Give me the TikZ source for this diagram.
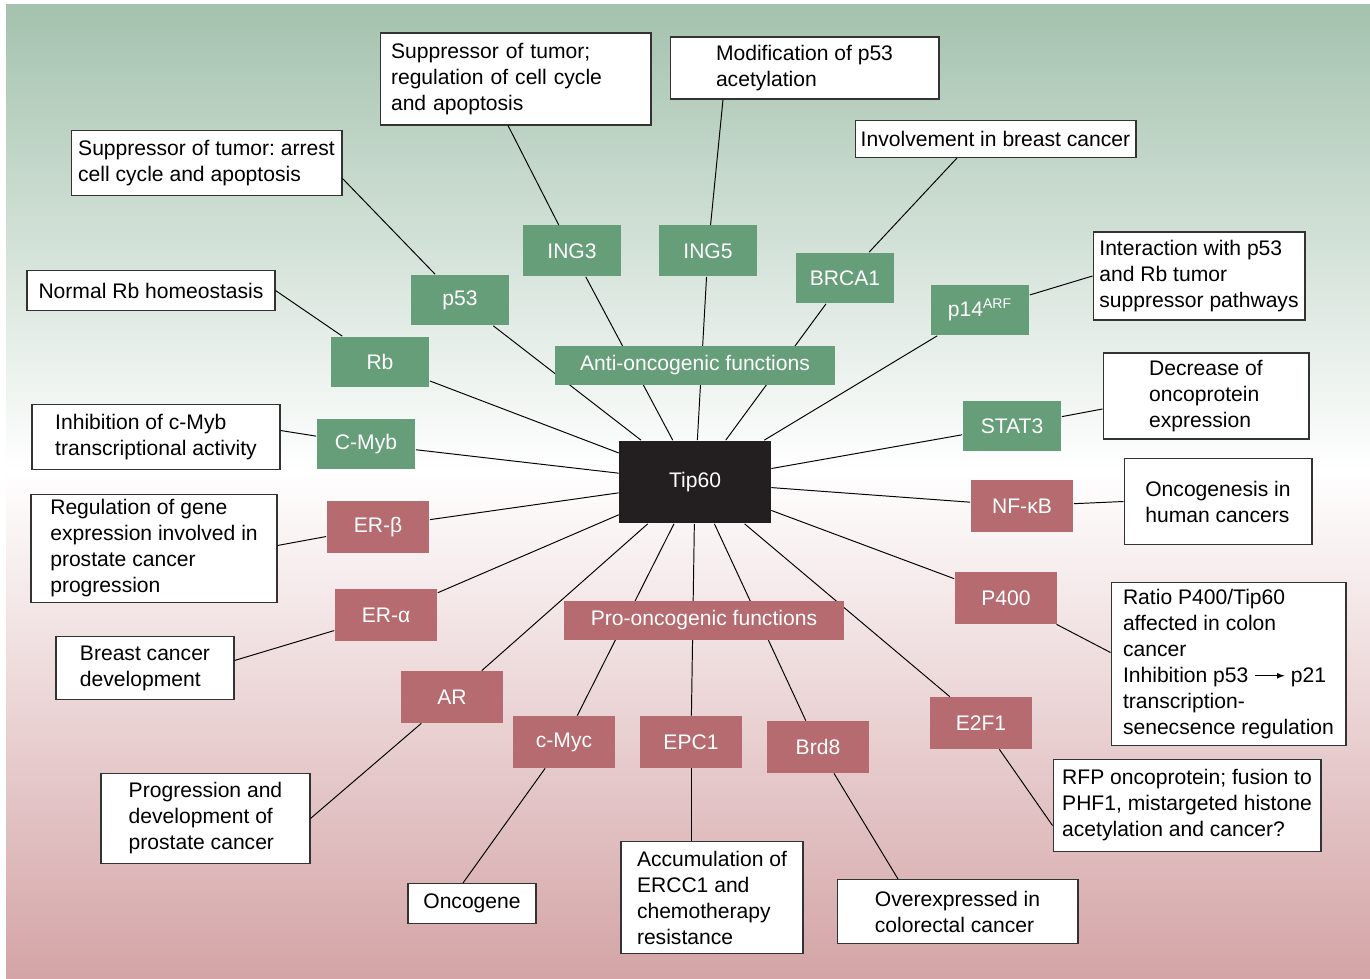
\documentclass[tikz,border=0pt]{standalone}
\usepackage{fontspec}
\setmainfont{Liberation Sans}
\usetikzlibrary{arrows}
\definecolor{antigreen}{RGB}{102,158,122}
\definecolor{prored}{RGB}{181,107,112}
\definecolor{tipblack}{RGB}{35,31,32}
\definecolor{bggreen}{RGB}{164,194,174}
\definecolor{bgpink}{RGB}{212,164,166}
\frenchspacing

\begin{document}
\begin{tikzpicture}[x=0.02cm, y=-0.02cm,
    every node/.style={font=\fontsize{12}{14.8}\selectfont},
    anti/.style={fill=antigreen, text=white, minimum width=1.98cm, minimum height=1.02cm, inner sep=0pt},
    pro/.style={fill=prored, text=white, minimum width=2.06cm, minimum height=1.04cm, inner sep=0pt},
    desc/.style={draw=black!80, line width=0.6pt, fill=white, align=left, inner sep=0pt},
    link/.style={line width=0.55pt}]
    \useasboundingbox (0,0) rectangle (1370,979);
    \shade[top color=bggreen, bottom color=white] (6,5) rectangle (1370,471);
    \shade[top color=white, bottom color=bgpink] (6,470) rectangle (1370,979);

    \node[fill=tipblack, text=white, minimum width=3.04cm, minimum height=1.66cm, inner sep=0pt] (tip) at (695,482) {Tip60};

    % anti-oncogenic partners
    \node[anti] (ing3) at (572,251) {ING3};
    \node[anti] (ing5) at (708,251) {ING5};
    \node[anti] (brca1) at (845,278) {BRCA1};
    \node[anti] (p53) at (460,300) {p53};
    \node[anti] (rb) at (380,362) {Rb};
    \node[anti] (p14) at (980,310) {p14\textsuperscript{ARF}};
    \node[anti] (cmyb) at (366,444) {C-Myb};
    \node[anti] (stat3) at (1012,426) {STAT3};

    % pro-oncogenic partners
    \node[pro] (nfkb) at (1022,506) {NF-κB};
    \node[pro] (erb) at (378,527) {ER-β};
    \node[pro] (era) at (386,615) {ER-α};
    \node[pro] (p400) at (1006,598) {P400};
    \node[pro] (ar) at (452,697) {AR};
    \node[pro] (cmyc) at (564,742) {c-Myc};
    \node[pro] (epc1) at (691,742) {EPC1};
    \node[pro] (brd8) at (818,747) {Brd8};
    \node[pro] (e2f1) at (981,723) {E2F1};

    % descriptions
    \node[desc, minimum width=5.42cm, minimum height=1.30cm] (p53txt) at (206.5,163) {Suppressor of tumor: arrest\\cell cycle and apoptosis};
    \node[desc, text width=4.98cm, inner xsep=0.22cm, minimum height=1.84cm] (ing3txt) at (515.5,79) {Suppressor of tumor;\\regulation of cell cycle\\and apoptosis};
    \node[desc, minimum width=5.38cm, minimum height=1.24cm] (ing5txt) at (804.5,68) {Modification of p53\\acetylation};
    \node[desc, minimum width=5.62cm, minimum height=0.74cm] (brca1txt) at (995.5,139) {Involvement in breast cancer};
    \node[desc, minimum width=4.96cm, minimum height=0.80cm] (rbtxt) at (151,290.5) {Normal Rb homeostasis};
    \node[desc, minimum width=4.24cm, minimum height=1.76cm] (p14txt) at (1199,276) {Interaction with p53\\and Rb tumor\\suppressor pathways};
    \node[desc, minimum width=4.12cm, minimum height=1.72cm] (stat3txt) at (1206,396) {Decrease of\\oncoprotein\\expression};
    \node[desc, minimum width=4.96cm, minimum height=1.30cm] (cmybtxt) at (156,437) {Inhibition of c-Myb\\transcriptional activity};
    \node[desc, minimum width=3.76cm, minimum height=1.72cm] (nfkbtxt) at (1218,501.5) {Oncogenesis in\\human cancers};
    \node[desc, minimum width=4.92cm, minimum height=2.16cm] (erbtxt) at (154,548.5) {Regulation of gene\\expression involved in\\prostate cancer\\progression};
    \node[desc, minimum width=3.56cm, minimum height=1.26cm] (eratxt) at (145,668) {Breast cancer\\development};
    \node[desc, minimum width=4.70cm, minimum height=3.26cm] (p400txt) at (1228.5,664) {Ratio P400/Tip60\\affected in colon\\cancer\\Inhibition p53 \tikz[baseline=-0.6ex]\draw[-latex, line width=0.5pt] (0pt,0pt) -- (17pt,0pt); p21\\transcription-\\senecsence regulation};
    \node[desc, minimum width=4.18cm, minimum height=1.80cm] (artxt) at (205.5,818.5) {Progression and\\development of\\prostate cancer};
    \node[desc, minimum width=5.36cm, minimum height=1.84cm] (e2f1txt) at (1187,805.5) {RFP oncoprotein; fusion to\\PHF1, mistargeted histone\\acetylation and cancer?};
    \node[desc, minimum width=2.56cm, minimum height=0.80cm] (cmyctxt) at (472,903.5) {Oncogene};
    \node[desc, minimum width=3.64cm, minimum height=2.24cm] (epc1txt) at (712,897.5) {Accumulation of\\ERCC1 and\\chemotherapy\\resistance};
    \node[desc, minimum width=4.82cm, minimum height=1.28cm] (brd8txt) at (957.5,911.5) {Overexpressed in\\colorectal cancer};

    % spokes from Tip60
    \foreach \g in {ing3,ing5,brca1,p53,rb,p14,cmyb,stat3,nfkb,erb,era,p400,ar,cmyc,epc1,brd8,e2f1}
      \draw[link] (tip) -- (\g);

    % partner to description
    \draw[link] (p53) -- ([yshift=-0.31cm]p53txt.east);
    \draw[link] (ing3) -- ([xshift=-0.15cm]ing3txt.south);
    \draw[link] (ing5) -- ([xshift=-1.63cm]ing5txt.south);
    \draw[link] (brca1) -- ([xshift=-0.77cm]brca1txt.south);
    \draw[link] (rb) -- (rbtxt.east);
    \draw[link] (p14) -- (p14txt.west);
    \draw[link] (cmyb) -- ([yshift=0.13cm]cmybtxt.east);
    \draw[link] (stat3) -- ([yshift=-0.26cm]stat3txt.west);
    \draw[link] (nfkb) -- (nfkbtxt.west);
    \draw[link] (erb) -- ([yshift=0.06cm]erbtxt.east);
    \draw[link] (era) -- ([yshift=0.15cm]eratxt.east);
    \draw[link] (p400) -- ([yshift=0.23cm]p400txt.west);
    \draw[link] (ar) -- (artxt.east);
    \draw[link] (cmyc) -- ([xshift=-0.18cm]cmyctxt.north);
    \draw[link] (epc1) -- (epc1txt.north -| epc1);
    \draw[link] (brd8) -- ([xshift=-1.19cm]brd8txt.north);
    \draw[link] (e2f1) -- ([yshift=-0.4cm]e2f1txt.west);

    % group bars over the spokes
    \node[anti, minimum width=5.6cm, minimum height=0.78cm] (antibar) at (695,365.5) {Anti-oncogenic functions};
    \node[pro, minimum width=5.6cm, minimum height=0.78cm] (probar) at (704,620.5) {Pro-oncogenic functions};
\end{tikzpicture}
\end{document}
